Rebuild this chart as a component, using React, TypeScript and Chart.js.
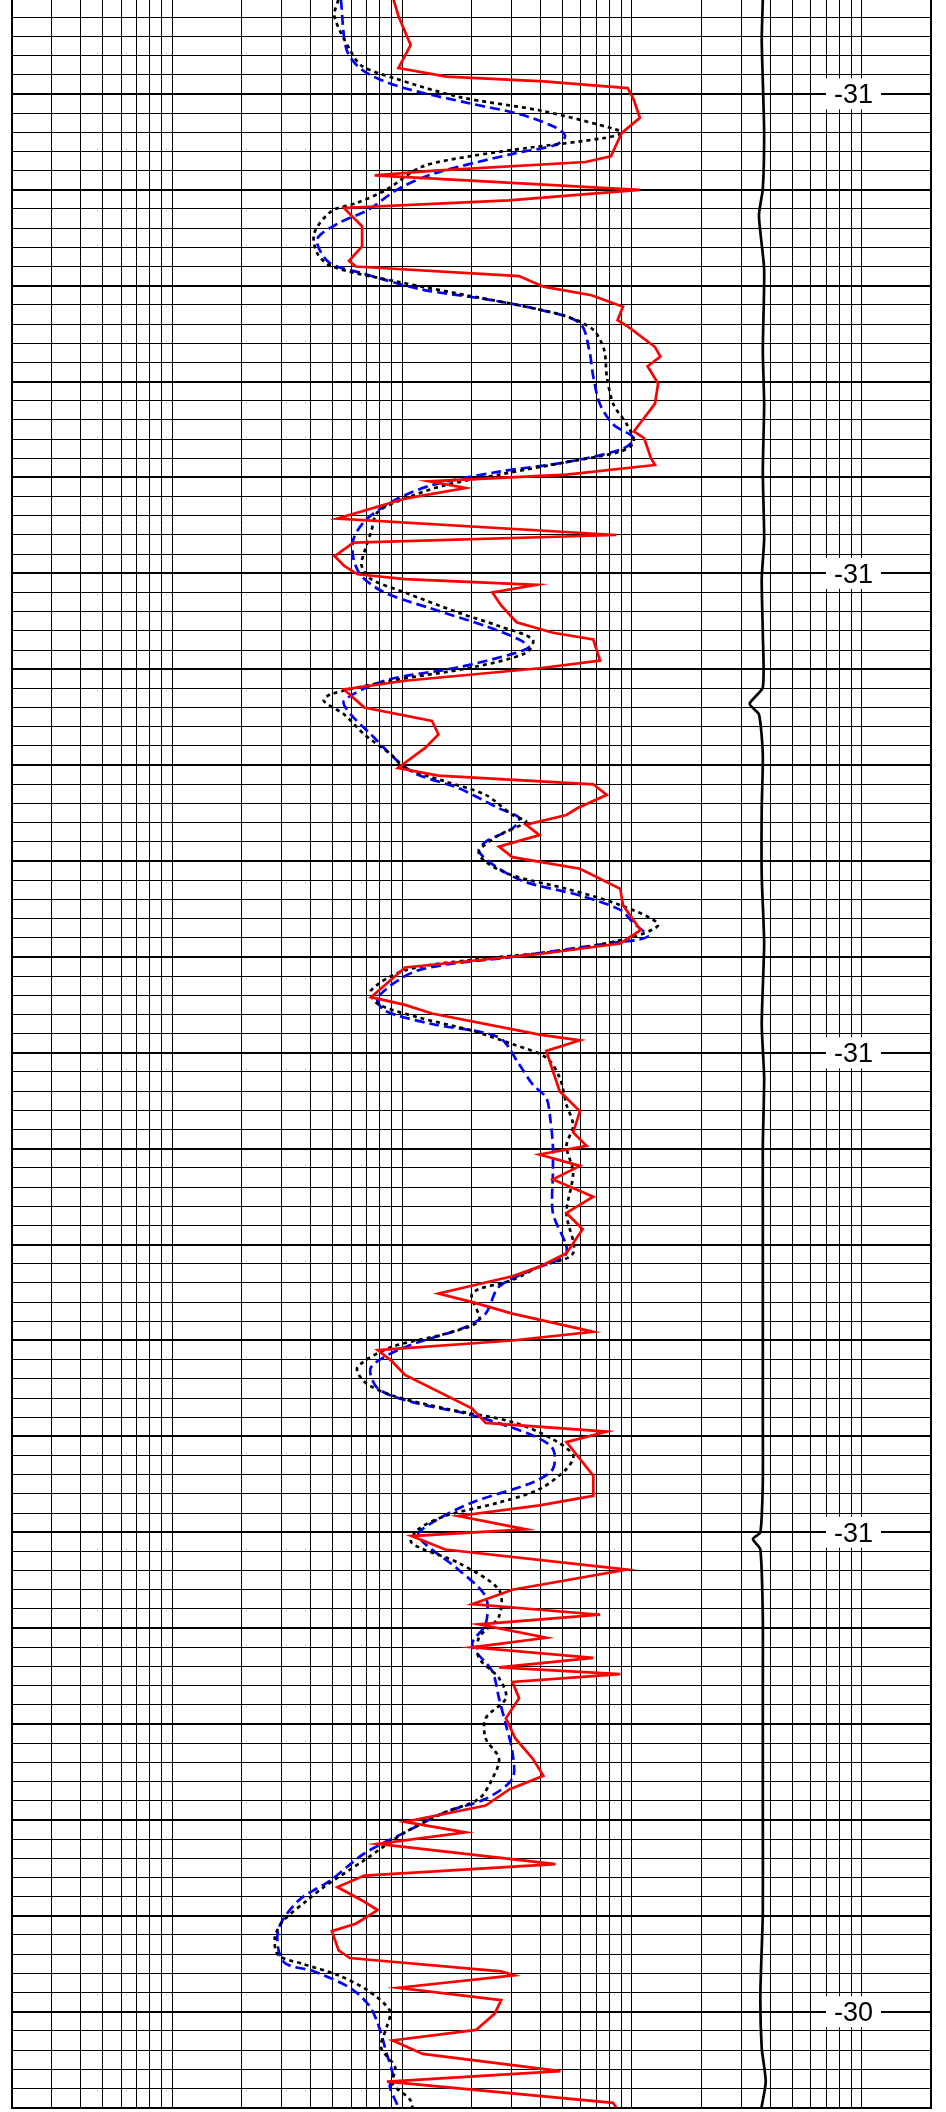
import React, { useEffect, useRef } from 'react';
import { Chart, registerables } from 'chart.js';

Chart.register(...registerables);

// Depth axis (m, increasing downward) and tick labels
const DEPTH_MIN = 0;
const DEPTH_MAX = 2.2;
const MINOR_STEP = 0.02;
const MAJOR_EVERY = 5;
const LABEL_DEPTHS = [0.1, 0.6, 1.1, 1.6, 2.1];
const LABEL_TEXT = ['-31', '-31', '-31', '-31', '-30'];
const LABEL_X_VALUE = 920;

// Logarithmic resistivity grid (0.2 - 2000)
const X_MIN = 0.2;
const X_MAX = 2000;
const X_GRID = [
  0.2, 0.3, 0.4, 0.5, 0.6, 0.7, 0.8, 0.9, 1,
  2, 3, 4, 5, 6, 7, 8, 9, 10,
  20, 30, 40, 50, 60, 70, 80, 90, 100,
  200, 300, 400, 500, 600, 700, 800, 900, 1000, 2000,
];

// Red solid curve
const RED_DEPTH = [
  0.002, 0.019, 0.049, 0.073, 0.082, 0.087, 0.094, 0.106, 0.125, 0.141, 0.165, 0.171, 0.18, 0.185, 0.2, 0.211,
  0.219, 0.238, 0.259, 0.274, 0.28, 0.29, 0.301, 0.31, 0.322, 0.336, 0.343, 0.364, 0.374, 0.384, 0.402, 0.423,
  0.438, 0.452, 0.459, 0.48, 0.487, 0.497, 0.504, 0.511, 0.522, 0.543, 0.56, 0.568, 0.582, 0.592, 0.601, 0.606,
  0.612, 0.62, 0.634, 0.651, 0.662, 0.669, 0.691, 0.699, 0.712, 0.721, 0.74, 0.754, 0.768, 0.782, 0.803, 0.811,
  0.82, 0.831, 0.845, 0.852, 0.862, 0.873, 0.885, 0.896, 0.908, 0.929, 0.946, 0.972, 0.986, 0.997, 1.011, 1.042,
  1.05, 1.059, 1.081, 1.087, 1.098, 1.119, 1.14, 1.161, 1.183, 1.197, 1.206, 1.218, 1.232, 1.25, 1.267, 1.284,
  1.309, 1.323, 1.333, 1.351, 1.36, 1.372, 1.391, 1.4, 1.41, 1.421, 1.436, 1.471, 1.486, 1.495, 1.506, 1.541,
  1.562, 1.572, 1.583, 1.597, 1.604, 1.618, 1.639, 1.66, 1.675, 1.686, 1.696, 1.71, 1.72, 1.731, 1.741, 1.748,
  1.756, 1.773, 1.794, 1.815, 1.836, 1.854, 1.868, 1.885, 1.902, 1.913, 1.925, 1.946, 1.958, 1.97, 1.984, 1.994,
  2.008, 2.016, 2.036, 2.044, 2.058, 2.062, 2.075, 2.088, 2.102, 2.119, 2.13, 2.144, 2.162, 2.173, 2.195, 2.206,
];
const RED_VALUE = [
  9.19, 9.65, 10.9, 9.65, 15.6, 41.2, 95.9, 101.8, 108.3, 90.2, 81, 62.7, 13.9, 7.6, 108, 29.1,
  5.59, 6.7, 6.7, 5.88, 6.3, 32.3, 41.2, 66.7, 91.4, 86.6, 96.5, 126, 133, 117, 130, 126,
  113, 102, 113, 121, 126, 51.9, 13.1, 18.9, 10.3, 5.23, 85.5, 6.15, 5.09, 5.59, 6.4, 10.3,
  38.5, 24.7, 27.1, 31.5, 45.3, 67.9, 72.7, 39.6, 10.3, 5.59, 6.85, 13.5, 14.4, 12.6, 9.6, 14.4,
  67.9, 77.8, 57.8, 51.9, 34.6, 39.6, 26.4, 30.2, 59.4, 89, 91.4, 109, 89, 39.6, 10.3, 7.33,
  10.3, 13.5, 39.6, 59.4, 42.4, 45.3, 48.5, 59.4, 55.5, 63.5, 39.6, 59.4, 45.3, 67.9, 51.9, 61,
  51.9, 39.6, 30.2, 14.4, 20.2, 30.2, 67.9, 30.2, 7.84, 8.97, 10.3, 20.2, 23.1, 77.8, 51.9, 67.9,
  67.9, 39.6, 17.6, 34.6, 11, 15.4, 95.2, 30.2, 20.2, 72.7, 21.6, 42.4, 20.2, 67.9, 26.4, 89,
  30.2, 32.3, 28.3, 31.1, 37, 41.2, 29.4, 23.1, 10.3, 18.9, 7.84, 46.5, 6.85, 5.23, 6.7, 7.83,
  6.32, 4.95, 5.3, 5.92, 27, 30.7, 9.65, 27, 25.3, 21, 9.1, 12.3, 48.9, 8.6, 82.7, 89,
];

// Black dotted curve
const BLK_DEPTH = [
  0.002, 0.019, 0.054, 0.071, 0.083, 0.103, 0.118, 0.137, 0.141, 0.146, 0.156, 0.165, 0.176, 0.2, 0.214, 0.222,
  0.245, 0.266, 0.28, 0.296, 0.312, 0.322, 0.332, 0.346, 0.367, 0.395, 0.424, 0.445, 0.463, 0.473, 0.484, 0.497,
  0.508, 0.522, 0.536, 0.557, 0.578, 0.592, 0.606, 0.62, 0.641, 0.655, 0.669, 0.683, 0.698, 0.712, 0.726, 0.733,
  0.747, 0.768, 0.789, 0.803, 0.817, 0.831, 0.852, 0.859, 0.873, 0.89, 0.901, 0.915, 0.929, 0.946, 0.966, 0.979,
  0.993, 1.003, 1.014, 1.035, 1.049, 1.063, 1.077, 1.091, 1.105, 1.126, 1.154, 1.176, 1.197, 1.225, 1.267, 1.309,
  1.323, 1.337, 1.351, 1.379, 1.393, 1.407, 1.428, 1.443, 1.457, 1.471, 1.485, 1.503, 1.52, 1.534, 1.555, 1.569,
  1.583, 1.597, 1.611, 1.632, 1.66, 1.688, 1.71, 1.731, 1.752, 1.773, 1.794, 1.815, 1.836, 1.857, 1.878, 1.892,
  1.913, 1.942, 1.97, 1.984, 2.005, 2.022, 2.041, 2.05, 2.062, 2.078, 2.099, 2.116, 2.137, 2.158, 2.175, 2.192, 2.206,
];
const BLK_VALUE = [
  5.28, 5.08, 5.93, 6.7, 9.07, 17.6, 41.2, 84.9, 90.2, 75.8, 36.1, 19.8, 12.2, 8.53, 6.32, 4.95,
  4.15, 4.27, 4.95, 9.6, 21.1, 34.6, 51.9, 67.9, 75.7, 77.8, 83.2, 95.2, 101.8, 89, 51.9, 26.4,
  15.4, 10.3, 7.84, 7.33, 6.85, 6.67, 7.33, 10.3, 17.6, 26.4, 37, 34.6, 20.2, 8.97, 4.89, 4.57,
  5.59, 6.85, 8.97, 10.3, 15.4, 23.1, 30.2, 34.6, 26.4, 21.6, 23.1, 30.2, 51.9, 89, 130, 101.8,
  51.9, 20.2, 10.3, 7.33, 7.84, 11.75, 20.2, 30.2, 42.4, 48.5, 51.9, 55.5, 51.9, 55.5, 51.9, 55.5,
  39.6, 30.2, 20.2, 21.6, 15.4, 8.97, 6.4, 6.85, 8.97, 15.4, 30.2, 45.3, 55.5, 51.9, 39.6, 26.4,
  15.4, 11.75, 11, 17.6, 26.4, 26.4, 21.6, 21.6, 26.4, 28.3, 23.1, 23.1, 26.4, 24.7, 21.6, 15.4,
  10.3, 6.85, 4.57, 3.86, 3.05, 2.8, 2.89, 3.68, 5.28, 7.11, 8.85, 8.58, 8.1, 9.33, 9.1, 10.85, 11.2,
];

// Blue dashed curve
const BLU_DEPTH = [
  0.002, 0.054, 0.075, 0.092, 0.11, 0.121, 0.135, 0.144, 0.153, 0.162, 0.183, 0.199, 0.221, 0.235, 0.252, 0.276,
  0.287, 0.304, 0.314, 0.325, 0.339, 0.367, 0.395, 0.424, 0.445, 0.459, 0.47, 0.484, 0.494, 0.508, 0.522, 0.543,
  0.564, 0.585, 0.603, 0.62, 0.637, 0.655, 0.669, 0.677, 0.684, 0.698, 0.712, 0.733, 0.747, 0.768, 0.796, 0.81,
  0.824, 0.845, 0.855, 0.866, 0.88, 0.89, 0.908, 0.922, 0.936, 0.951, 0.965, 0.979, 0.986, 1.0, 1.014, 1.042,
  1.056, 1.07, 1.084, 1.112, 1.133, 1.147, 1.168, 1.197, 1.225, 1.267, 1.309, 1.326, 1.344, 1.372, 1.386, 1.407,
  1.428, 1.45, 1.464, 1.478, 1.499, 1.513, 1.534, 1.548, 1.569, 1.59, 1.604, 1.639, 1.667, 1.696, 1.717, 1.745,
  1.773, 1.801, 1.829, 1.857, 1.878, 1.892, 1.913, 1.935, 1.963, 1.984, 2.015, 2.048, 2.058, 2.075, 2.092, 2.112,
  2.144, 2.165, 2.178, 2.199, 2.206,
];
const BLU_VALUE = [
  5.42, 5.74, 6.7, 9.6, 19.8, 32.3, 46.6, 51.2, 46.9, 30.9, 13.8, 9.65, 7.11, 5.28, 4.27, 4.82,
  6.7, 12.2, 23.1, 39.6, 59.4, 65.2, 67.9, 72.7, 83.2, 101.8, 91.4, 51.9, 26.4, 13.5, 9.6, 7.04,
  6.15, 6.15, 6.67, 8.39, 13.5, 23.1, 32.3, 35.5, 30.2, 17.6, 8.39, 5.59, 5.98, 7.33, 9.6, 11.75,
  17.6, 26.4, 32.3, 30.2, 23.1, 21.6, 26.4, 34.6, 59.4, 89, 101.8, 116.6, 77.8, 30.2, 11.75, 7.84,
  8.39, 13.5, 26.4, 32.3, 37, 42.4, 44.1, 45.3, 45.3, 45.3, 51.9, 37, 26.4, 23.1, 18.9, 10.3,
  7.33, 7.84, 11, 20.2, 37, 45.3, 45.3, 37, 20.2, 13.5, 11.75, 17.6, 23.1, 23.1, 20.2, 24.7,
  26.4, 28.3, 30.2, 30.2, 23.1, 15.4, 10.3, 6.85, 4.89, 3.55, 2.89, 3.05, 4.15, 5.93, 7.11, 7.84,
  8.58, 9.1, 8.85, 9.6, 9.7,
];

// Right-hand black solid curve
const CAL_DEPTH = [
  0.002, 0.044, 0.086, 0.142, 0.199, 0.227, 0.283, 0.367, 0.424, 0.494, 0.564, 0.606, 0.663, 0.719, 0.736, 0.747,
  0.789, 0.845, 0.915, 0.986, 1.07, 1.126, 1.197, 1.267, 1.337, 1.407, 1.478, 1.548, 1.6, 1.607, 1.618, 1.688,
  1.759, 1.829, 1.899, 1.998, 2.082, 2.138, 2.173, 2.206,
];
const CAL_VALUE = [
  371, 367, 371, 376, 371, 357, 376, 371, 376, 371, 376, 367, 371, 371, 325, 357,
  371, 367, 367, 376, 367, 376, 371, 371, 371, 371, 371, 371, 362, 336, 362, 371,
  371, 371, 371, 371, 362, 367, 382, 362,
];

const toPoints = (depths: number[], values: number[]) =>
  depths.map((d, i) => ({ x: values[i], y: d }));

const labelPlugin = {
  id: 'depthLabels',
  afterDraw(chart: any) {
    const { ctx, scales } = chart;
    const xs = scales.x;
    const ys = scales.y;
    ctx.save();
    ctx.font = '27px "Liberation Sans", Arial, sans-serif';
    const px = xs.getPixelForValue(LABEL_X_VALUE);
    LABEL_DEPTHS.forEach((d, i) => {
      const py = ys.getPixelForValue(d);
      const text = LABEL_TEXT[i];
      ctx.fillStyle = '#ffffff';
      ctx.fillRect(px - 27.5, py - 15.5, 55, 31);
      ctx.fillStyle = '#000000';
      ctx.textAlign = 'center';
      ctx.textBaseline = 'alphabetic';
      ctx.fillText(text, px, py + 9.5);
    });
    ctx.restore();
  },
};

export default function App() {
  const ref = useRef<HTMLCanvasElement | null>(null);

  useEffect(() => {
    if (!ref.current) return;
    const yTicks: { value: number }[] = [];
    const n = Math.round((DEPTH_MAX - DEPTH_MIN) / MINOR_STEP);
    for (let i = 0; i <= n; i++) yTicks.push({ value: DEPTH_MIN + i * MINOR_STEP });

    const chart = new Chart(ref.current, {
      type: 'scatter',
      data: {
        datasets: [
          {
            data: toPoints(RED_DEPTH, RED_VALUE),
            showLine: true,
            borderColor: '#ff0000',
            borderWidth: 2.7,
            pointRadius: 0,
            tension: 0,
            order: 0,
          },
          {
            data: toPoints(BLK_DEPTH, BLK_VALUE),
            showLine: true,
            borderColor: '#000000',
            borderWidth: 2.7,
            borderDash: [4, 4],
            pointRadius: 0,
            tension: 0.3,
            order: 1,
          },
          {
            data: toPoints(BLU_DEPTH, BLU_VALUE),
            showLine: true,
            borderColor: '#0000ff',
            borderWidth: 2.7,
            borderDash: [10, 5],
            pointRadius: 0,
            tension: 0.3,
            order: 2,
          },
          {
            data: toPoints(CAL_DEPTH, CAL_VALUE),
            showLine: true,
            borderColor: '#000000',
            borderWidth: 2.7,
            pointRadius: 0,
            tension: 0.2,
            order: 3,
          },
        ],
      },
      options: {
        animation: false,
        responsive: false,
        maintainAspectRatio: false,
        events: [],
        layout: { padding: { left: 11.5, right: 15, top: 0, bottom: 4.4 } },
        plugins: { legend: { display: false }, tooltip: { enabled: false }, title: { display: false } },
        scales: {
          x: {
            type: 'logarithmic',
            min: X_MIN,
            max: X_MAX,
            afterBuildTicks: (s: any) => {
              s.ticks = X_GRID.map((v) => ({ value: v }));
            },
            afterFit: (s: any) => {
              s.height = 0;
            },
            ticks: { display: false },
            grid: {
              color: '#000000',
              drawTicks: false,
              lineWidth: (c: any) => (c.tick && c.tick.value === X_MAX ? 2 : 1),
            },
            border: { display: true, color: '#000000', width: 2 },
          },
          y: {
            type: 'linear',
            reverse: true,
            min: DEPTH_MIN,
            max: DEPTH_MAX,
            afterBuildTicks: (s: any) => {
              s.ticks = yTicks.slice();
            },
            afterFit: (s: any) => {
              s.width = 0;
            },
            ticks: { display: false },
            grid: {
              color: '#000000',
              drawTicks: false,
              lineWidth: (c: any) => (c.index % MAJOR_EVERY === 0 ? 2 : 1),
            },
            border: { display: true, color: '#000000', width: 2 },
          },
        },
      },
      plugins: [labelPlugin],
    } as any);
    return () => chart.destroy();
  }, []);

  return (
    <div style={{ position: 'absolute', left: 0, top: -2, width: 946, height: 2114, background: '#fff' }}>
      <canvas ref={ref} width={946} height={2114} style={{ width: 946, height: 2114, display: 'block' }} />
    </div>
  );
}
